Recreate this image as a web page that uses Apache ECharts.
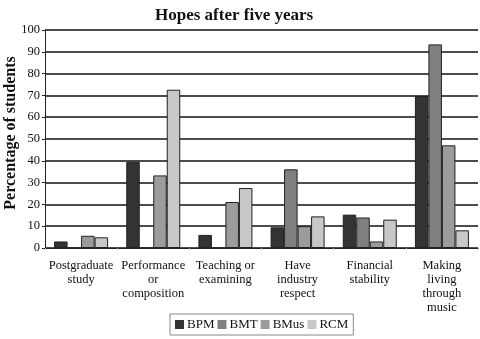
<!DOCTYPE html>
<html>
<head>
<meta charset="utf-8">
<script src="https://cdn.jsdelivr.net/npm/echarts@6/dist/echarts.min.js"></script>
<style>
  html, body { margin: 0; padding: 0; background: #fff; }
  #chart { width: 480px; height: 339px; }
</style>
</head>
<body>
<div id="chart"></div>
<script>
var categories = ['Postgraduate\nstudy', 'Performance\nor\ncomposition', 'Teaching or\nexamining',
  'Have\nindustry\nrespect', 'Financial\nstability', 'Making\nliving\nthrough\nmusic'];
var seriesNames = ['BPM', 'BMT', 'BMus', 'RCM'];
var bpm = [3, 39.5, 6, 9.5, 15.3, 69.7];
var bmt = [0, 0, 0, 36.1, 14, 93.4];
var bmus = [5.6, 33.3, 21.1, 10, 3, 47.1];
var rcm = [4.9, 72.6, 27.5, 14.5, 13, 8.1];
var colors = ['#333333', '#808080', '#9c9c9c', '#c8c8c8'];

var font = 'Liberation Serif';
var chart = echarts.init(document.getElementById('chart'));

var allData = [bpm, bmt, bmus, rcm];
var series = [];
for (var i = 0; i < seriesNames.length; i++) {
  series.push({
    name: seriesNames[i],
    type: 'bar',
    data: allData[i],
    barWidth: 13.5,
    barGap: '0%',
    itemStyle: { color: colors[i], borderColor: '#222', borderWidth: 1 }
  });
}

var option = {
  animation: false,
  color: colors,
  title: {
    text: 'Hopes after five years',
    left: 150,
    top: 2,
    textStyle: { fontFamily: font, fontSize: 17, fontWeight: 'bold', color: '#111' }
  },
  legend: {
    data: seriesNames,
    bottom: 4,
    left: 170,
    itemWidth: 9,
    itemHeight: 9,
    itemGap: 3,
    padding: [4, 5],
    borderColor: '#888',
    borderWidth: 1,
    icon: 'rect',
    itemStyle: { borderWidth: 0 },
    textStyle: { fontFamily: font, fontSize: 13, color: '#111', padding: [0, 0, 0, -2] }
  },
  grid: { left: 45, right: 2, top: 30, bottom: 91, outerBoundsMode: 'none', containLabel: false },
  xAxis: {
    type: 'category',
    data: categories,
    axisLine: { show: true, lineStyle: { color: '#222', width: 1 } },
    axisTick: { show: true, length: 2, lineStyle: { color: '#bbb' } },
    axisLabel: { fontFamily: font, fontSize: 12.5, color: '#111', lineHeight: 14, margin: 11, interval: 0 }
  },
  yAxis: {
    type: 'value',
    min: 0,
    max: 100,
    interval: 10,
    name: 'Percentage of students',
    nameLocation: 'middle',
    nameGap: 26,
    nameMoveOverlap: false,
    nameTextStyle: { fontFamily: font, fontSize: 16, fontWeight: 'bold', color: '#111', padding: [0, 0, 0, 12] },
    axisLine: { show: true, lineStyle: { color: '#222', width: 1 } },
    axisTick: { show: true, length: 3, lineStyle: { color: '#222' } },
    axisLabel: { fontFamily: font, fontSize: 12.5, color: '#111', margin: 5 },
    splitLine: { show: true, lineStyle: { color: '#111', width: 1.5 } }
  },
  series: series
};
chart.setOption(option);
</script>
</body>
</html>
